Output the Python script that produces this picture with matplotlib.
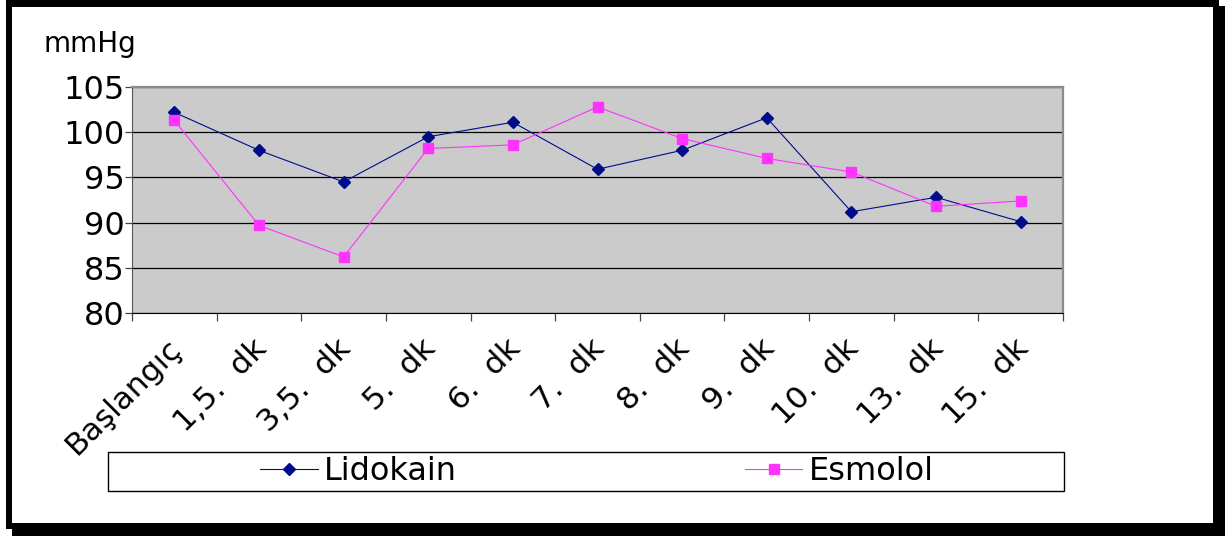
import numpy as np
import matplotlib.pyplot as plt
from matplotlib.patches import Rectangle
from matplotlib import transforms

categories = ["Başlangıç", "1,5.  dk", "3,5.  dk", "5.  dk", "6.  dk", "7.  dk",
              "8.  dk", "9.  dk", "10.  dk", "13.  dk", "15.  dk"]
lidokain = [102.2, 98.0, 94.5, 99.5, 101.1, 95.9, 98.0, 101.6, 91.2, 92.8, 90.1]
esmolol = [101.3, 89.7, 86.2, 98.2, 98.6, 102.8, 99.3, 97.1, 95.6, 91.8, 92.4]
y_ticks = [80, 85, 90, 95, 100, 105]

W, H = 1225, 536
blue = '#000d8a'
pink = '#ff33ff'

fig = plt.figure(figsize=(W / 100, H / 100), dpi=100)


def box(x0, y0, x1, y1):
    # pixel box (measured from top-left) -> figure fraction rect
    return (x0 / W, 1 - y1 / H), (x1 - x0) / W, (y1 - y0) / H


# frame with shadow
for (x0, y0, x1, y1), fc in [((12, 6, 1225, 536), 'black'),
                             ((6, 0, 1219, 529), 'black'),
                             ((12, 7, 1213, 523), 'white')]:
    xy, w, h = box(x0, y0, x1, y1)
    fig.add_artist(Rectangle(xy, w, h, transform=fig.transFigure,
                             facecolor=fc, edgecolor='none', zorder=-5))

(ax_x, ax_y), ax_w, ax_h = box(132, 87, 1063, 313)
ax = fig.add_axes([ax_x, ax_y, ax_w, ax_h])
ax.set_facecolor('#cbcbcb')

x = np.arange(len(categories))
ax.plot(x, lidokain, color=blue, lw=0.8, marker='D', ms=6.5,
        mfc=blue, mec=blue, label='Lidokain')
ax.plot(x, esmolol, color=pink, lw=0.8, marker='s', ms=7,
        mfc=pink, mec=pink, label='Esmolol')

ax.set_xlim(-0.5, len(categories) - 0.5)
ax.set_ylim(80, 105)
ax.set_yticks(y_ticks)
ax.set_yticklabels([str(v) for v in y_ticks], fontsize=23)
ax.yaxis.grid(True, color='black', lw=0.9)
ax.tick_params(axis='y', length=5, width=0.9, pad=0, color='#444444')

ax.set_xticks(np.arange(-0.5, len(categories), 1))
ax.set_xticklabels([])
ax.tick_params(axis='x', length=6, width=0.9, color='#444444')

for side in ['top', 'right']:
    ax.spines[side].set_color('#8c8c8c')
    ax.spines[side].set_linewidth(1.6)
ax.spines['left'].set_color('#555555')
ax.spines['bottom'].set_color('black')

off = transforms.ScaledTranslation(3 / 100, -31 / 100, fig.dpi_scale_trans)
trans = transforms.blended_transform_factory(ax.transData, ax.transAxes) + off
for i, lab in enumerate(categories):
    ax.text(i, 0, lab, transform=trans, rotation=45, rotation_mode='anchor',
            ha='right', va='center', fontsize=22.5)

fig.text(43 / W, 1 - 52 / H, 'mmHg', fontsize=20, ha='left', va='baseline')

# legend box
xy, w, h = box(108, 452, 1064, 491)
fig.add_artist(Rectangle(xy, w, h, transform=fig.transFigure,
                         facecolor='white', edgecolor='black', lw=1, zorder=1))
handles, labels = ax.get_legend_handles_labels()
fig.legend(handles, labels, ncol=2, frameon=False, loc='center',
           bbox_to_anchor=((108 + 1064) / 2 / W + 11 / W, 1 - 471.5 / H),
           fontsize=23, handlelength=1.8, handletextpad=0.2, columnspacing=9.0,
           borderpad=0)

fig.savefig('out.png', dpi=100)
